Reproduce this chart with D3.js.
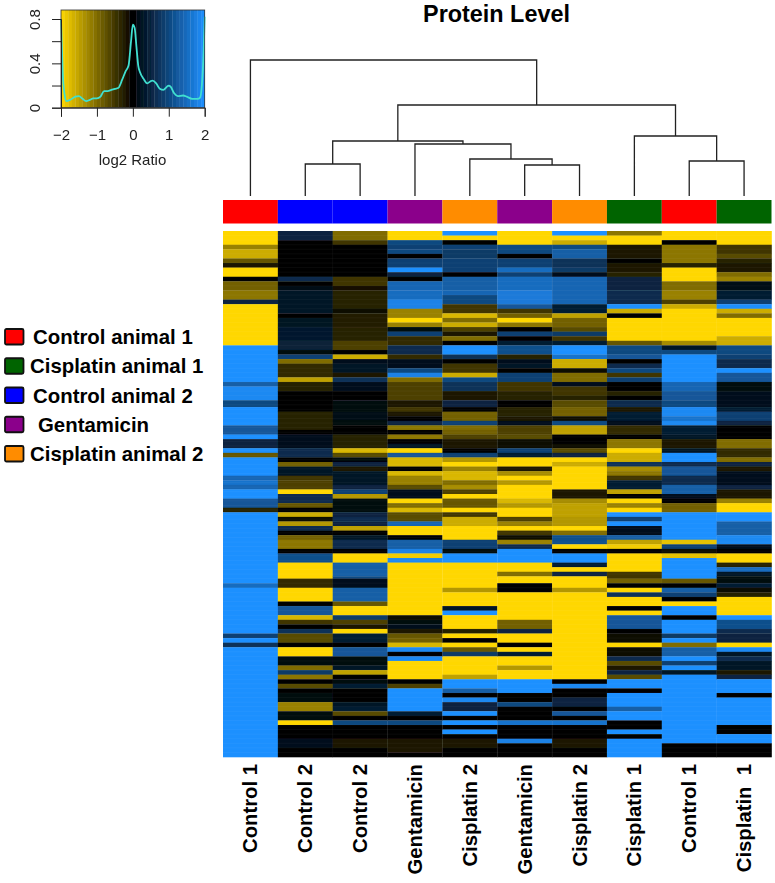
<!DOCTYPE html>
<html>
<head>
<meta charset="utf-8">
<script src="https://cdn.jsdelivr.net/npm/d3@7"></script>
<style>
  html, body { margin: 0; padding: 0; background: #fff; }
  svg { display: block; }
  text { font-family: "Liberation Sans", Arial, sans-serif; }
</style>
</head>
<body>
<svg id="chart" width="775" height="883"></svg>
<script>
// column order as drawn under the dendrogram
const sampleLabels = ["Control 1", "Control 2", "Control 2", "Gentamicin", "Cisplatin 2", "Gentamicin", "Cisplatin 2", "Cisplatin 1", "Control 1", "Cisplatin  1"];
const sampleGroups = ["control1", "control2", "control2", "gentamicin", "cisplatin2", "gentamicin", "cisplatin2", "cisplatin1", "control1", "cisplatin1"];

const legendNames = ["Control animal 1", "Cisplatin animal 1", "Control animal 2", "Gentamicin", "Cisplatin animal 2"];
const legendGroups = ["control1", "cisplatin1", "control2", "gentamicin", "cisplatin2"];
const groupColors = ["#ff0000", "#006400", "#0000ff", "#8b008b", "#ff8c00"];

const rowCount = 115;

// log2 ratios per column, as flat [first row, value, first row, value, ...] runs
const col0 = [0,-2, 3,-1.2, 4,-1.6, 6,-.8, 7,-.2, 8,-2, 10,0, 11,-.9, 13,-1.1, 15,.5, 16,-2, 25,2, 33,1.3, 34,1.9, 37,1, 38.5,2, 42.5,1.2, 44.5,2, 45.5,.5, 47.5,2, 48.5,-.8, 49.5,2, 53.5,1.4, 54.5,1.6, 55.5,1.4, 56.5,2, 58.5,1.2, 60.5,-.3, 61.5,2, 77,1.5, 78,2, 88,.9, 89,2, 90,.7, 91,2];
const col1 = [0,.5, 2,.05, 10,.6, 11,0, 12,.15, 13,.3, 18,0, 19,.25, 21,.35, 24,.45, 26,.1, 27,.9, 28,-1, 29,-.4, 32,-1.5, 33,-.3, 35,0, 39.5,-.3, 43.5,0, 44.5,.2, 47.5,.6, 49.5,0, 50.5,-.9, 51.5,.3, 53.5,-.5, 54.5,-.6, 56.5,-2, 57.5,.6, 59.5,-.8, 60.5,0, 61.5,-1.6, 62.5,-.1, 63.5,-1.4, 64.5,.6, 65.5,0, 66.5,-.9, 67.5,-1.1, 69.5,0, 70.5,1.1, 72.5,-2, 76,-.4, 78,-2, 81,0, 82,1.2, 84,-1.7, 85,-.5, 86,0, 87,.7, 88,-.7, 90,0, 91,-2, 93,.1, 95,-1, 96,.8, 97,-1.1, 98,0, 99,-.7, 100,0, 101,.1, 103,-1.2, 105,.1, 107,-2, 108,0, 111,.2, 113,0];
const col2 = [0,-1, 2,-.5, 3,0, 10,-.5, 12,-.15, 13,-.3, 17,-.1, 18,-.25, 21,-.3, 24,-.6, 26,0, 27,-1.6, 28,.2, 29,.3, 31,-.2, 32,.7, 33,.2, 35,0, 37,.1, 39.5,.15, 41.5,.1, 42.5,0, 44.5,-.3, 47.5,-1.7, 48.5,-.7, 49.5,.1, 50.5,.5, 51.5,-.2, 52.5,.3, 55.5,.5, 56.5,.9, 57.5,-1.4, 58.5,.1, 61.5,.5, 62.5,.6, 63.5,.5, 64.5,-1.5, 65.5,0, 66.5,.3, 67.5,.6, 69.5,0, 70.5,-2, 72.5,1.3, 75.5,1, 76,.2, 78,1.3, 81,-.8, 82,-2, 84,.8, 85,-.6, 86,-.2, 87,-2, 88,.4, 90,0, 91,1.2, 93,.1, 95,.3, 96,-1.5, 97,0, 98,.1, 99,.4, 100,0, 103,.3, 104,.4, 105,-.7, 106,0, 107,1, 108,0, 111,-.2, 113,0];
const col3 = [0,-2, 2,1, 3,.9, 4,1, 5,0, 6,.9, 8,2, 9,.5, 10,0, 11,1.4, 13,1.5, 15,1.8, 17,-1.2, 19,-2, 20,-1.2, 21,.1, 22,.9, 23,-.4, 25,.6, 27,-.4, 28,.2, 30,1, 31,1.8, 32,-1, 33,-.6, 37,-.2, 38.5,-.5, 39.5,-.2, 40.5,0, 41.5,.5, 42.5,-1.1, 43.5,0, 44.5,-1.1, 45.5,0, 46.5,.3, 47.5,-2, 48.5,1.2, 49.5,-1.7, 51.5,0, 52.5,-1.7, 53.5,-1.2, 55.5,-.7, 56.5,.2, 58.5,-2, 59.5,-1, 60.5,-1.7, 61.5,-.7, 63.5,1.4, 64.5,-2, 66.5,0, 67.5,1.3, 69.5,1.8, 70.5,-1.9, 71.5,1.9, 72.5,-2, 84,-.1, 85,.1, 86,.2, 87,-.2, 88,-.8, 89,-.9, 90,-1.7, 91,1.9, 92,0, 93,1.9, 94,-2, 98,0, 99,-.6, 100,2, 105,.4, 106,0, 107,1, 108,0, 111,-.2, 114,0];
const col4 = [0,2, 1,-2, 2,0, 3,.9, 4,.8, 6,.9, 9,0, 10,1.3, 13,1.4, 14,1, 16,-.5, 18,-1.7, 19,-1, 20,-1.6, 21,-.6, 22,-.2, 23,-1, 24,0, 25,2, 27,.7, 28,0, 29,-.5, 31,-1.6, 32,1, 33,.7, 35,-.2, 37,.5, 38.5,0, 39.5,-.9, 41.5,.9, 42.5,-1, 43.5,-.9, 44.5,-.6, 45.5,-.2, 47.5,0, 48.5,.9, 49.5,-1.4, 50.5,-2, 51.5,-1.2, 52.5,-1.7, 54.5,-1, 55.5,-1.3, 56.5,-.6, 57.5,-2, 58.5,-.8, 60.5,-2, 61.5,-.5, 62.5,-1.6, 64.5,-2, 67.5,.9, 69.5,.1, 70.5,2, 72.5,-2, 78,-1.4, 79,-2, 82,.3, 83,2, 84,-2, 87,-.3, 88,-2, 89,0, 90,-2, 91,-.8, 92,.8, 93,-2, 97,-1.5, 98,2, 100,1.3, 101,0, 102,1.9, 103,.5, 105,2, 106,0, 107,2, 108,0, 109,2, 110,0, 111,-.2, 113,0];
const col5 = [0,-2, 3,1, 5,0, 6,.9, 8,1.5, 9,.9, 10,1.5, 13,1.7, 16,1.2, 17,-.5, 18,-.9, 19,-2, 20,-1.1, 21,0, 22,.9, 23,0, 24,.4, 25,1.1, 27,-.3, 28,.2, 29,.3, 30,0, 31,.9, 33,-.5, 35,-.3, 37,0, 38.5,-.3, 40.5,-.2, 41.5,.2, 42.5,-.6, 44.5,-.7, 45.5,-.1, 47.5,.9, 48.5,.4, 49.5,-2, 51.5,-.2, 52.5,-1.3, 53.5,-2, 54.5,-1.4, 55.5,-2, 58.5,-1.7, 59.5,-1.4, 60.5,-2, 62.5,-.6, 63.5,-1.2, 64.5,-2, 65.5,-.5, 66.5,-.1, 67.5,-1.2, 68.5,.6, 69.5,2, 72.5,-2, 74.5,-1, 75.5,-2, 77,0, 79,-2, 85,-.9, 87,.5, 88,-2, 90,0, 91,-2, 92,.4, 93,-2, 95,-1.4, 96,-2, 98,2, 101,0, 103,1, 104,0, 107,1.6, 108,0, 111,1.8, 112,0];
const col6 = [0,2, 1,-2, 2,-1.6, 3,1, 4,1.3, 6,.7, 8,.8, 9,.2, 10,1.4, 16,.4, 18,-1.5, 19,-.9, 21,-.7, 22,.8, 23,-.5, 24,.4, 25,2, 27,1.6, 28,-1.6, 30,-.1, 31,-1, 33,.2, 34,-.5, 36,-.3, 37,-.7, 38.5,-.9, 40.5,-.1, 41.5,1, 42.5,-1.5, 44.5,0, 46.5,-.1, 47.5,-.7, 48.5,.5, 49.5,-2, 50.5,-1.6, 51.5,-2, 56.5,-.2, 58.5,-1.3, 59.5,-1.5, 62.5,-1.4, 64.5,-2, 65.5,-1, 66.5,1.1, 68.5,-2, 69.5,0, 70.5,2, 72.5,.4, 73.5,-2, 74.5,.5, 75.5,-2, 78,-1.4, 79,-2, 98,0, 99,1.9, 100,0, 102,.5, 104,0, 105,1.2, 106,0, 107,1.6, 108,0, 111,-.2, 113,0];
const col7 = [0,-1.1, 1,-2, 3,-.2, 6,0, 7,-.2, 9,-.3, 10,.5, 13,.6, 16,2, 17,-1.6, 18,0, 19,-2, 24,-.8, 25,1, 27,1.2, 28,0, 29,.6, 30,1, 31,-.5, 32,.9, 33,0, 35,-.3, 36,0, 37,.6, 38.5,-.2, 39.5,.4, 41.5,.2, 42.5,-.4, 44.5,0, 45.5,-1.1, 47.5,-2, 48.5,-1.6, 50.5,.7, 51.5,-1.3, 52.5,-1.1, 53.5,-.5, 54.5,.4, 56.5,-1.5, 57.5,0, 58.5,-2, 59.5,-1.2, 60.5,-2, 61.5,2, 62.5,.9, 63.5,2, 64.5,.2, 66.5,1.3, 67.5,-1.5, 68.5,-1.9, 69.5,0, 70.5,-2, 74.5,-.5, 76,-.9, 77,0, 78,-2, 79,.7, 80,-2, 82,0, 83,-2, 84,1.2, 87,0, 88,-.1, 90,-2, 91,-.1, 93,.6, 94,-.7, 95,-.2, 96,.5, 97,-.7, 98,2, 100,0, 101,2, 104,1.3, 105,2, 107,0, 109,2, 110,0, 111,2];
const col8 = [0,-2, 2,0, 3,-1.1, 7,-.3, 8,-2, 11,-1, 13,-1.2, 15,-.6, 16,-1.6, 17,-2, 24,-1.3, 25,.3, 26,1, 27,2, 33,1.4, 35,1.2, 37,1, 38.5,1.9, 40.5,1.6, 41.5,1.9, 42.5,.4, 44.5,.3, 45.5,-.2, 47.5,.3, 48.5,2, 50.5,.6, 51.5,1.2, 53.5,.6, 55.5,1.3, 57.5,.2, 58.5,0, 59.5,-.9, 61.5,2, 67.5,-1.8, 68.5,.9, 69.5,-.1, 70.5,-1.8, 71.5,2, 76,-.8, 77,0, 78,1.3, 79,.9, 80,0, 81,-2, 82,2, 84,0, 85,2, 88,.8, 89,2, 90,-1, 91,1.3, 93,2, 94,.9, 95,2, 96,.3, 97,2, 112,0];
const col9 = [0,-2, 3,-.5, 5,-.7, 6,-.3, 7,-.2, 9,-1, 10,-1.2, 11,.15, 13,.4, 15,.9, 16,2, 17,-1.6, 18,-1, 19,-2, 23,-1.6, 25,1, 27,.9, 28,.6, 30,2, 31,1.2, 33,.1, 35,.2, 38.5,.4, 39.5,.9, 41.5,.5, 42.5,0, 45.5,-1, 47.5,-.4, 49.5,-1, 50.5,.5, 51.5,-.2, 52.5,.2, 55.5,.5, 56.5,-.2, 58.5,-1.2, 59.5,-2, 61.5,2, 63.5,1.3, 66.5,1.9, 68.5,.2, 69.5,0, 70.5,-2, 72.5,-.3, 73.5,1.5, 74.5,.3, 75.5,.1, 77,.4, 78,-.1, 79,-.3, 80,-2, 84,2, 85,1.1, 87,.6, 88,.5, 90,-2, 91,1.9, 92,.3, 93,.6, 94,.3, 96,-.2, 97,.5, 98,2, 101,0, 102,2, 108,0, 110,2, 112,0];
const heatColumns = [col0, col1, col2, col3, col4, col5, col6, col7, col8, col9];

// cluster tree over the columns: leaves are column numbers, merge heights in px-like units
const treeMerges = [
  {name: "m1", kids: [1, 2], height: 32},
  {name: "m2", kids: [5, 6], height: 31},
  {name: "m3", kids: [4, "m2"], height: 37},
  {name: "m4", kids: [3, "m3"], height: 52},
  {name: "m5", kids: ["m1", "m4"], height: 55},
  {name: "m6", kids: [8, 9], height: 35},
  {name: "m7", kids: [7, "m6"], height: 60},
  {name: "m8", kids: ["m5", "m7"], height: 91},
  {name: "m9", kids: [0, "m8"], height: 136}
];

// colour key density curve
const densityX = [-2, -1.98, -1.95, -1.9, -1.85, -1.75, -1.6, -1.5, -1.4, -1.3, -1.2, -1.1, -1, -.9, -.8, -.7, -.6, -.5, -.4, -.3, -.2, -.12, -.05, 0, .05, .1, .15, .2, .3, .4, .5, .55, .65, .75, .85, .95, 1, 1.05, 1.15, 1.25, 1.4, 1.5, 1.65, 1.8, 1.87, 1.92, 1.97, 2];
const densityY = [.8, .6, .3, .12, .06, .07, .1, .105, .08, .06, .07, .085, .085, .1, .15, .15, .16, .17, .18, .25, .33, .38, .6, .75, .72, .55, .38, .32, .26, .22, .24, .245, .22, .17, .16, .19, .2, .19, .13, .105, .11, .1, .08, .08, .09, .2, .5, .82];
const keyXTicks = [-2, -1, 0, 1, 2];
const keyYTicks = [0, .2, .4, .6, .8];
const keyYLabels = [0, .4, .8];

const svg = d3.select("#chart");

const color = d3.scaleLinear()
    .domain([-2, 0, 2])
    .range(["#ffd700", "#000000", "#1e90ff"])
    .clamp(true);

const groupColor = d3.scaleOrdinal(legendGroups, groupColors);

/*
 * Heatmap
 */
const x = d3.scaleBand().domain(d3.range(sampleLabels.length)).range([223, 771.5]);
const y = d3.scaleLinear().domain([0, rowCount]).range([231, 757]);

const cells = heatColumns.flatMap((runs, col) => {
    const out = [];
    for (let i = 0; i < runs.length; i += 2) {
        const end = i + 2 < runs.length ? runs[i + 2] : rowCount;
        out.push({col, start: runs[i], end, value: runs[i + 1]});
    }
    return out;
});

const blur = svg.append("defs").append("filter").attr("id", "soft")
    .attr("x", "-1%").attr("y", "-1%").attr("width", "102%").attr("height", "102%");
blur.append("feGaussianBlur").attr("stdDeviation", 0.45);

svg.append("g")
    .attr("filter", "url(#soft)")
    .selectAll("rect")
    .data(cells)
    .join("rect")
    .attr("x", d => x(d.col))
    .attr("y", d => y(d.start))
    .attr("width", x.bandwidth() + 0.3)
    .attr("height", d => y(d.end) - y(d.start) + 0.3)
    .attr("fill", d => color(d.value));

// faint grid lines of the image map
const grid = svg.append("g").attr("stroke", "#fff").attr("stroke-opacity", 0.07).attr("stroke-width", 0.6);
grid.selectAll("line.r").data(d3.range(1, rowCount)).join("line").attr("class", "r")
    .attr("x1", 223).attr("x2", 771.5).attr("y1", d => y(d)).attr("y2", d => y(d));
grid.selectAll("line.c").data(d3.range(1, sampleLabels.length)).join("line").attr("class", "c")
    .attr("y1", 231).attr("y2", 757).attr("x1", d => x(d)).attr("x2", d => x(d));

// side colour bar
svg.append("g")
    .selectAll("rect")
    .data(sampleGroups)
    .join("rect")
    .attr("x", (d, i) => x(i))
    .attr("y", 200)
    .attr("width", x.bandwidth())
    .attr("height", 23.5)
    .attr("fill", d => groupColor(d));

/*
 * Dendrogram
 */
const treeY = d3.scaleLinear().domain([0, 136]).range([196, 60]);
const treeNodes = new Map();
const centre = i => x(i) + x.bandwidth() / 2;
const treePath = d3.path();

const nodeOf = k => typeof k === "number" ? {x: centre(k), h: 0} : treeNodes.get(k);

treeMerges.forEach(m => {
    const a = nodeOf(m.kids[0]);
    const b = nodeOf(m.kids[1]);
    treePath.moveTo(a.x, treeY(a.h));
    treePath.lineTo(a.x, treeY(m.height));
    treePath.lineTo(b.x, treeY(m.height));
    treePath.lineTo(b.x, treeY(b.h));
    treeNodes.set(m.name, {x: (a.x + b.x) / 2, h: m.height});
});

svg.append("path")
    .attr("d", treePath.toString())
    .attr("fill", "none")
    .attr("stroke", "#222")
    .attr("stroke-width", 1.3);

svg.append("text")
    .attr("x", 496.5)
    .attr("y", 22)
    .attr("text-anchor", "middle")
    .attr("font-size", 23.4)
    .attr("font-weight", "bold")
    .text("Protein Level");

// column labels
svg.append("g")
    .selectAll("text")
    .data(sampleLabels)
    .join("text")
    .attr("transform", (d, i) => `translate(${centre(i) + 7},764) rotate(-90)`)
    .attr("text-anchor", "end")
    .attr("font-size", 20.3)
    .attr("font-weight", "bold")
    .style("white-space", "pre")
    .text(d => d);

/*
 * Group legend
 */
const legendSwatchY = d3.scalePoint().domain(legendGroups).range([329, 446]);
const legendTextX = [33, 30, 33, 38, 30];

const legend = svg.append("g")
    .selectAll("g")
    .data(legendGroups)
    .join("g")
    .attr("transform", d => `translate(0,${legendSwatchY(d)})`);

legend.append("rect")
    .attr("x", 5)
    .attr("width", 18.5)
    .attr("height", 15.5)
    .attr("rx", 1.5)
    .attr("fill", d => groupColor(d))
    .attr("stroke", "#111")
    .attr("stroke-width", 1.8);

legend.append("text")
    .attr("x", (d, i) => legendTextX[i])
    .attr("y", 15)
    .attr("font-size", 20.4)
    .attr("font-weight", "bold")
    .text((d, i) => legendNames[i]);

/*
 * Colour key with density
 */
const keyX = d3.scaleLinear().domain([-2, 2]).range([61, 204.7]);
const keyY = d3.scaleLinear().domain([0, .8]).range([107.7, 19]);
const keyBands = d3.range(-2, 2, 0.1);

const key = svg.append("g").attr("filter", "url(#soft)");

key.append("g")
    .selectAll("rect")
    .data(keyBands)
    .join("rect")
    .attr("x", d => keyX(d))
    .attr("y", 10)
    .attr("width", keyX(-1.9) - keyX(-2) + 0.3)
    .attr("height", 97.7)
    .attr("fill", d => color(d + 0.05));

key.append("path")
    .datum(densityX.map((d, i) => [d, densityY[i]]))
    .attr("fill", "none")
    .attr("stroke", "#40e0d0")
    .attr("stroke-width", 1.8)
    .attr("d", d3.line().x(d => keyX(d[0])).y(d => keyY(d[1])).curve(d3.curveMonotoneX));

key.append("rect")
    .attr("x", 61)
    .attr("y", 10)
    .attr("width", 143.7)
    .attr("height", 97.7)
    .attr("fill", "none")
    .attr("stroke", "#333")
    .attr("stroke-width", 0.8);

const keyXAxis = d3.axisBottom(keyX)
    .tickValues(keyXTicks)
    .tickSize(9)
    .tickPadding(13)
    .tickFormat(d3.format("~g"));
const keyYAxis = d3.axisLeft(keyY)
    .tickValues(keyYTicks)
    .tickSize(9)
    .tickPadding(7)
    .tickFormat(d => keyYLabels.includes(d) ? d3.format("~g")(d) : "");

key.append("g")
    .attr("transform", "translate(0,107.7)")
    .call(keyXAxis)
    .call(g => g.selectAll("text").attr("font-size", 15).attr("fill", "#222"))
    .call(g => g.selectAll("line,path").attr("stroke", "#222"));

key.append("g")
    .attr("transform", "translate(61,0)")
    .call(keyYAxis)
    .call(g => g.selectAll("line,path").attr("stroke", "#222"))
    .call(g => g.selectAll("text")
        .attr("font-size", 15)
        .attr("fill", "#222")
        .attr("text-anchor", "middle")
        .attr("dy", 0)
        .attr("x", 0)
        .attr("transform", "translate(-21,0) rotate(-90)"));

key.append("text")
    .attr("x", 132.5)
    .attr("y", 165)
    .attr("text-anchor", "middle")
    .attr("font-size", 15)
    .attr("fill", "#222")
    .text("log2 Ratio");
</script>
</body>
</html>
